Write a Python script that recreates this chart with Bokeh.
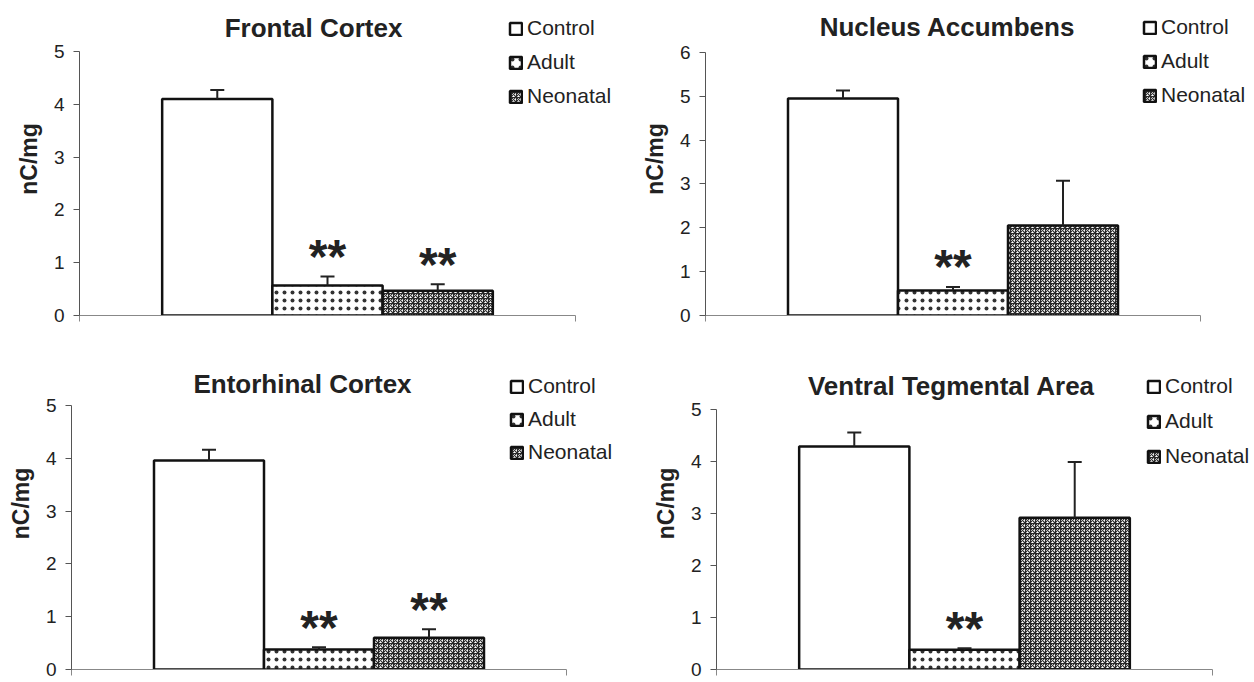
from bokeh.plotting import figure
from bokeh.models import (Range1d, FixedTicker, ColumnDataSource, Whisker, TeeHead,
                          Legend, LegendItem, Label)
from bokeh.layouts import column, row
from bokeh.embed import file_html
from bokeh.resources import INLINE
from bokeh.core.properties import value

# ---------------- data ----------------
groups = ["Control", "Adult", "Neonatal"]
titles = ["Frontal Cortex", "Nucleus Accumbens", "Entorhinal Cortex", "Ventral Tegmental Area"]
y_max = [5, 6, 5, 5]

fc_mean = [4.10, 0.57, 0.47]
fc_sem = [0.17, 0.17, 0.12]
na_mean = [4.95, 0.57, 2.05]
na_sem = [0.18, 0.08, 1.02]
ec_mean = [3.96, 0.38, 0.60]
ec_sem = [0.20, 0.04, 0.16]
vta_mean = [4.29, 0.38, 2.92]
vta_sem = [0.27, 0.03, 1.07]

fc_sig = ["", "**", "**"]
na_sig = ["", "**", ""]
ec_sig = ["", "**", "**"]
vta_sig = ["", "**", ""]

means = [fc_mean, na_mean, ec_mean, vta_mean]
sems = [fc_sem, na_sem, ec_sem, vta_sem]
sigs = [fc_sig, na_sig, ec_sig, vta_sig]

# ---------------- styling / layout ----------------
FONT = "Liberation Sans"
TXT = "#222222"

bar_styles = {
    "Control": dict(fill_color="white"),
    "Adult": dict(fill_color="white", hatch_pattern="dot", hatch_scale=8,
                  hatch_weight=1.0, hatch_color="#333333"),
    "Neonatal": dict(fill_color="white", hatch_pattern="criss_cross", hatch_scale=5,
                     hatch_weight=1.1, hatch_color="#2a2a2a"),
}

# page geometry per panel (pixels on the page)
# ox, oy: figure origin; w, h: figure size; ax_l/ax_r: x-axis ends; y0/ytop: y=0 and y=max
panels = [
    dict(ox=0, oy=0, w=622, h=335, ax_l=79, ax_r=575, y0=315, ytop=51,
         title_x=313, title_y=27, leg_x=508, leg_y=28, spacing=10),
    dict(ox=622, oy=0, w=632, h=335, ax_l=705, ax_r=1200, y0=316, ytop=52,
         title_x=947, title_y=27, leg_x=1142, leg_y=28, spacing=10),
    dict(ox=0, oy=335, w=622, h=347, ax_l=71, ax_r=566, y0=669, ytop=405,
         title_x=302, title_y=383, leg_x=509, leg_y=386, spacing=9),
    dict(ox=622, oy=335, w=632, h=347, ax_l=716, ax_r=1212, y0=669, ytop=409,
         title_x=951, title_y=385, leg_x=1146, leg_y=386, spacing=11),
]

X_START, X_END = -1.25, 3.25
PAD = 2

figs = []
for k in range(4):
    g = panels[k]
    ymax = y_max[k]
    left = g["ax_l"] - g["ox"]
    bottom = g["oy"] + g["h"] - g["y0"]
    fw = g["w"] - left - PAD
    fh = g["h"] - bottom - PAD
    xs = (g["ax_r"] - g["ax_l"]) / (X_END - X_START)   # px per x unit
    ys = (g["y0"] - g["ytop"]) / ymax                   # px per y unit
    x_hi = X_START + fw / xs
    y_hi = fh / ys
    fl = g["ax_l"]
    fb = g["y0"]

    p = figure(width=g["w"], height=g["h"], output_backend="svg", toolbar_location=None,
               x_range=Range1d(X_START, x_hi), y_range=Range1d(0, y_hi),
               min_border_left=left, min_border_right=PAD,
               min_border_top=PAD, min_border_bottom=bottom)
    p.outline_line_color = None
    p.grid.visible = False
    p.background_fill_color = "white"
    p.border_fill_color = "white"

    # y axis
    ya = p.yaxis[0]
    ya.bounds = (0, ymax)
    ya.ticker = FixedTicker(ticks=list(range(0, ymax + 1)))
    ya.major_tick_out = 6
    ya.major_tick_in = 0
    ya.minor_tick_line_color = None
    ya.axis_line_color = "#555555"
    ya.major_tick_line_color = "#555555"
    ya.major_label_text_font = FONT
    ya.major_label_text_font_size = "19px"
    ya.major_label_text_color = TXT
    ya.major_label_standoff = 9
    ya.axis_label = "nC/mg"
    ya.axis_label_text_font = FONT
    ya.axis_label_text_font_size = "23px"
    ya.axis_label_text_font_style = "bold"
    ya.axis_label_text_color = TXT
    ya.axis_label_standoff = 9

    # x axis: only a baseline with end ticks, no labels
    xa = p.xaxis[0]
    xa.bounds = (X_START, X_END)
    xa.ticker = FixedTicker(ticks=[X_START, X_END])
    xa.major_tick_out = 6
    xa.major_tick_in = 0
    xa.minor_tick_line_color = None
    xa.axis_line_color = "#888888"
    xa.major_tick_line_color = "#888888"
    xa.major_label_text_font_size = "0px"
    xa.major_label_text_color = None
    xa.major_label_standoff = 0

    mean = means[k]
    sem = sems[k]
    items = []
    for i, grp in enumerate(groups):
        src = ColumnDataSource(dict(x=[i], top=[mean[i]]))
        r = p.vbar(x="x", top="top", bottom=0, width=1.0, source=src,
                   line_color="#111111", line_width=2.5, **bar_styles[grp])
        items.append(LegendItem(label=grp, renderers=[r]))

    esrc = ColumnDataSource(dict(x=list(range(len(groups))), lower=mean,
                                 upper=[m + s for m, s in zip(mean, sem)]))
    wh = Whisker(source=esrc, base="x", lower="lower", upper="upper",
                 line_color="#222222", line_width=2,
                 upper_head=TeeHead(size=14, line_width=2, line_color="#222222"),
                 lower_head=None, level="overlay")
    p.add_layout(wh)

    idx = [i for i, s in enumerate(sigs[k]) if s]
    ssrc = ColumnDataSource(dict(x=idx, y=[mean[i] + sem[i] for i in idx],
                                 t=[sigs[k][i] for i in idx]))
    p.text(x="x", y="y", text="t", source=ssrc, text_align="center",
           text_baseline="alphabetic", y_offset=-20,
           text_font=value(FONT), text_font_size="48px", text_font_style="bold",
           text_color="#222222")

    # title (inside the extended frame)
    p.add_layout(Label(x=X_START + (g["title_x"] - fl) / xs,
                       y=(fb - g["title_y"]) / ys,
                       text=titles[k], text_align="center", text_baseline="middle",
                       text_font=FONT, text_font_size="26px", text_font_style="bold",
                       text_color=TXT))

    # legend
    item_h = 24
    sp = g["spacing"]
    leg_h = 3 * item_h + 2 * sp
    leg_bottom_page = g["leg_y"] - item_h / 2 + leg_h
    legend = Legend(items=items, location=(g["leg_x"] - fl, fb - leg_bottom_page),
                    orientation="vertical", glyph_width=15, glyph_height=15,
                    label_height=20, label_standoff=4, spacing=sp, padding=0, margin=0,
                    label_text_font=FONT, label_text_font_size="21px",
                    label_text_color=TXT, label_text_baseline="middle",
                    border_line_alpha=0, background_fill_alpha=0)
    p.add_layout(legend)
    figs.append(p)

layout = column(row(figs[0], figs[1]), row(figs[2], figs[3]))
open("out.html", "w").write(file_html(layout, INLINE))
